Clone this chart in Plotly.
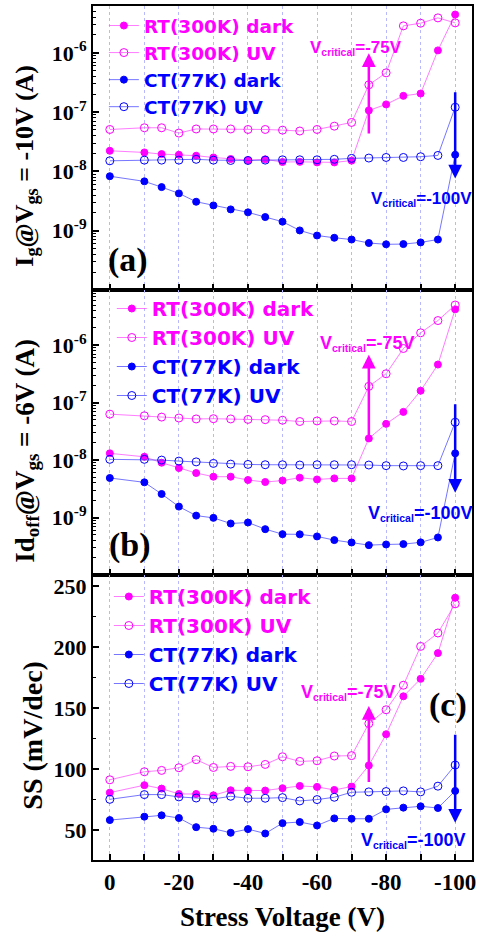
import math
import plotly.graph_objects as go
from plotly.subplots import make_subplots

# ---------------- data ----------------
stress_v = [0, -10, -15, -20, -25, -30, -35, -40, -45, -50, -55, -60, -65, -70, -75, -80, -85, -90, -95, -100]

ig_rt_dark = [2.23e-8, 2.09e-8, 1.96e-8, 1.91e-8, 1.84e-8, 1.72e-8, 1.62e-8, 1.55e-8, 1.6e-8, 1.44e-8,
              1.45e-8, 1.42e-8, 1.42e-8, 1.52e-8, 1.07e-7, 1.35e-7, 1.88e-7, 2.06e-7, 1.10e-6, 4.43e-6]
ig_rt_uv = [5.1e-8, 5.45e-8, 5.45e-8, 4.43e-8, 5.2e-8, 5.2e-8, 5.2e-8, 5.1e-8, 5.1e-8, 4.97e-8,
            4.8e-8, 5.1e-8, 5.8e-8, 6.7e-8, 2.89e-7, 4.6e-7, 2.85e-6, 3.16e-6, 3.89e-6, 3.2e-6]
ig_ct_dark = [8.3e-9, 6.8e-9, 5.44e-9, 4.26e-9, 3.08e-9, 2.67e-9, 2.29e-9, 2.04e-9, 1.7e-9, 1.42e-9,
              1.01e-9, 8.3e-10, 7.6e-10, 7.1e-10, 6.2e-10, 5.9e-10, 5.95e-10, 6.35e-10, 7.1e-10, 1.91e-8]
ig_ct_uv = [1.51e-8, 1.55e-8, 1.55e-8, 1.55e-8, 1.6e-8, 1.55e-8, 1.53e-8, 1.53e-8, 1.55e-8, 1.57e-8,
            1.57e-8, 1.57e-8, 1.6e-8, 1.66e-8, 1.68e-8, 1.72e-8, 1.72e-8, 1.77e-8, 1.86e-8, 1.21e-7]

id_rt_dark = [1.31e-8, 1.14e-8, 9.0e-9, 7.27e-9, 5.95e-9, 5.14e-9, 5.14e-9, 4.5e-9, 4.15e-9, 4.4e-9,
              4.94e-9, 4.6e-9, 4.8e-9, 4.8e-9, 2.38e-8, 4.27e-8, 6.9e-8, 1.61e-7, 4.6e-7, 4.2e-6]
id_rt_uv = [6.3e-8, 5.9e-8, 5.6e-8, 5.4e-8, 5.2e-8, 5.25e-8, 5.2e-8, 5.1e-8, 5.05e-8, 4.94e-8,
            4.69e-8, 4.8e-8, 4.8e-8, 4.69e-8, 1.92e-7, 3.18e-7, 8.75e-7, 1.64e-6, 2.68e-6, 5.0e-6]
id_ct_dark = [4.88e-9, 4.1e-9, 2.57e-9, 1.55e-9, 1.08e-9, 9.87e-10, 7.87e-10, 8.2e-10, 6.28e-10, 5.14e-10,
              5.1e-10, 4.69e-10, 4.05e-10, 3.68e-10, 3.31e-10, 3.4e-10, 3.45e-10, 3.7e-10, 4.5e-10, 1.31e-8]
id_ct_uv = [1.03e-8, 1.03e-8, 1.0e-8, 9.6e-9, 9.3e-9, 8.75e-9, 8.5e-9, 8.4e-9, 8.3e-9, 8.3e-9,
            8.2e-9, 8.3e-9, 8.3e-9, 8.3e-9, 8.2e-9, 8.0e-9, 7.9e-9, 8.0e-9, 8.0e-9, 4.56e-8]

ss_rt_dark = [81.0, 87.1, 84.3, 79.9, 79.9, 78.8, 82.9, 82.7, 82.7, 84.6,
              86.5, 85.7, 83.2, 86.0, 103.3, 128.8, 159.9, 174.2, 195.3, 240.7]
ss_rt_uv = [91.5, 98.1, 99.2, 101.4, 108.0, 101.6, 102.5, 102.2, 104.1, 110.4,
            106.6, 107.1, 111.0, 111.3, 137.6, 148.9, 169.0, 200.8, 211.8, 235.7]
ss_ct_dark = [58.5, 61.3, 62.4, 60.2, 52.7, 51.4, 48.1, 51.1, 47.5, 56.0,
              56.9, 54.1, 59.9, 59.6, 59.6, 67.3, 68.7, 69.8, 68.4, 82.4]
ss_ct_uv = [75.5, 79.4, 79.4, 77.5, 76.6, 75.8, 78.0, 76.4, 76.4, 76.9,
            74.2, 75.3, 77.2, 81.3, 81.6, 81.9, 82.4, 81.6, 86.3, 103.6]

series_names = ["RT(300K) dark", "RT(300K) UV", "CT(77K) dark", "CT(77K) UV"]
x_tickvals = [0, -10, -20, -30, -40, -50, -60, -70, -80, -90, -100]
x_ticktext = ["0", "", "-20", "", "-40", "", "-60", "", "-80", "", "-100"]
log_tickvals = [1e-9, 1e-8, 1e-7, 1e-6]
log_ticktext = ["10<sup>-9</sup>", "10<sup>-8</sup>", "10<sup>-7</sup>", "10<sup>-6</sup>"]
ss_tickvals = [50, 100, 150, 200, 250]

# ---------------- styling ----------------
W, H = 480, 936
ML, MR, MT, MB = 93, 4, 6, 76
PW, PH = W - ML - MR, H - MT - MB

MAG = "#ff00ff"
BLU = "#0000ff"
MAG_LINE = "rgba(255,80,255,0.75)"
BLU_LINE = "rgba(60,60,255,0.7)"
SERIF = "Times New Roman, Liberation Serif, serif"
SANS = "Arial, Liberation Sans, sans-serif"
LEGSANS = "DejaVu Sans, Arial, sans-serif"


def pxx(x):
    return (x - ML) / PW


def pxy(y):
    return (H - MB - y) / PH


fig = make_subplots(rows=3, cols=1, vertical_spacing=0)

panels = [
    (1, "legend", [ig_rt_dark, ig_rt_uv, ig_ct_dark, ig_ct_uv]),
    (2, "legend2", [id_rt_dark, id_rt_uv, id_ct_dark, id_ct_uv]),
    (3, "legend3", [ss_rt_dark, ss_rt_uv, ss_ct_dark, ss_ct_uv]),
]
styles = [
    (MAG, MAG_LINE, True),
    (MAG, MAG_LINE, False),
    (BLU, BLU_LINE, True),
    (BLU, BLU_LINE, False),
]

for row, leg, ys in panels:
    for name, yv, (mc, lc, filled) in zip(series_names, ys, styles):
        fig.add_trace(go.Scatter(
            x=stress_v, y=yv, mode="lines+markers",
            name=f"<span style='color:{mc}'>{name}</span>",
            legend=leg,
            line=dict(color=lc, width=1),
            marker=dict(
                symbol="circle" if filled else "circle-open",
                size=7 if filled else 8,
                color=mc,
                line=dict(color=mc, width=1),
            ),
        ), row=row, col=1)

# domains
dom = [
    [pxy(290), 1.0],
    [pxy(575), pxy(290)],
    [0.0, pxy(575)],
]

axis_common = dict(showline=True, linewidth=2, linecolor="black", mirror=True,
                   ticks="inside", tickwidth=1.5, ticklen=6, tickcolor="black",
                   zeroline=False)

for i in range(3):
    xa = "xaxis" if i == 0 else f"xaxis{i+1}"
    ya = "yaxis" if i == 0 else f"yaxis{i+1}"
    fig.layout[xa].update(
        domain=[0, 1], range=[4.87, -104.87], tickmode="array",
        tickvals=x_tickvals, ticktext=x_ticktext,
        showticklabels=(i == 2),
        showgrid=True, gridcolor="#b8b8ff", griddash="dot", gridwidth=1,
        tickfont=dict(family=SERIF, size=23, color="black", weight="bold"),
        **axis_common)
    fig.layout[ya].update(domain=dom[i], showgrid=False,
                          tickfont=dict(family=SERIF, size=22, color="black", weight="bold"),
                          **axis_common)

def minor_log(lo, hi):
    vals = []
    for k in range(lo, hi + 1):
        for m in range(2, 10):
            vals.append(m * 10.0 ** k)
    return vals

fig.layout.yaxis.update(type="log", range=[-10.0, -5.21], tickmode="array",
                        tickvals=log_tickvals, ticktext=log_ticktext,
                        minor=dict(tickmode="array", tickvals=minor_log(-10, -6),
                                   ticks="inside", ticklen=3, tickwidth=1, tickcolor="black"))
fig.layout.yaxis2.update(type="log", range=[-10.0, -5.04], tickmode="array",
                         tickvals=log_tickvals, ticktext=log_ticktext,
                         minor=dict(tickmode="array", tickvals=minor_log(-10, -6),
                                    ticks="inside", ticklen=3, tickwidth=1, tickcolor="black"))
fig.layout.yaxis3.update(range=[25.8, 259.3], tickmode="array", tickvals=ss_tickvals,
                         minor=dict(dtick=25, ticks="inside", ticklen=3, tickwidth=1, tickcolor="black"))

# legends
leg_common = dict(bgcolor="rgba(0,0,0,0)", borderwidth=0, xanchor="left", yanchor="top",
                  tracegroupgap=0, itemwidth=30)
fig.update_layout(
    legend=dict(x=pxx(104), y=pxy(7), font=dict(family=LEGSANS, size=18.5, weight="bold"), **leg_common),
    legend2=dict(x=pxx(112), y=pxy(289), font=dict(family=LEGSANS, size=20, weight="bold"), **leg_common),
    legend3=dict(x=pxx(109), y=pxy(577), font=dict(family=LEGSANS, size=20, weight="bold"), **leg_common),
)

# white masks behind traces that hide the grid under each legend
shapes = []
for (x0, y0, x1, y1) in [(94, 7, 300, 117), (94, 292, 330, 412), (94, 577, 330, 698)]:
    shapes.append(dict(type="rect", xref="paper", yref="paper",
                       x0=pxx(x0), x1=pxx(x1), y0=pxy(y1), y1=pxy(y0),
                       fillcolor="white", line=dict(width=0), layer="between"))

ann = []

# arrows (data coordinates)
def arrow(xref, yref, x, y_tip, y_tail, color, log=False):
    yt = math.log10(y_tip) if log else y_tip
    ya = math.log10(y_tail) if log else y_tail
    return dict(x=x, y=yt, ax=x, ay=ya, xref=xref, yref=yref, axref=xref, ayref=yref,
                showarrow=True, text="", arrowhead=2, arrowsize=1.1, arrowwidth=2.5,
                arrowcolor=color)

ann.append(arrow("x", "y", -75, 9.8e-7, 4.1e-8, MAG, log=True))
ann.append(arrow("x", "y", -100, 7.6e-9, 2.3e-7, BLU, log=True))
ann.append(arrow("x2", "y2", -75, 6.8e-7, 2.38e-8, MAG, log=True))
ann.append(arrow("x2", "y2", -100, 2.7e-9, 9.9e-8, BLU, log=True))
ann.append(arrow("x3", "y3", -75, 152, 88.5, MAG))
ann.append(arrow("x3", "y3", -100, 56.3, 129.7, BLU))

# V critical labels (anchored at their right edge); base font sets the subscript size,
# the main characters are enlarged with spans
def vlabel(txt, xr, yc, color, size):
    big = f"font-size:{size}px"
    return dict(text=f"<span style='{big}'>V</span><sub>critical</sub><span style='{big}'>={txt}</span>",
                x=pxx(xr), y=pxy(yc), xref="paper", yref="paper",
                xanchor="right", yanchor="middle", showarrow=False,
                font=dict(family=SANS, size=15, color=color, weight="bold"))

ann.append(vlabel("-75V", 407, 48, MAG, 17))
ann.append(vlabel("-100V", 478, 199, BLU, 17))
ann.append(vlabel("-75V", 419, 343, MAG, 18))
ann.append(vlabel("-100V", 478, 513, BLU, 18))
ann.append(vlabel("-75V", 400, 692, MAG, 18))
ann.append(vlabel("-100V", 471, 840, BLU, 18))

# panel labels
for lab, xc, yc in [("(a)", 128, 260), ("(b)", 130, 545), ("(c)", 452, 705)]:
    ann.append(dict(text=lab, x=pxx(xc), y=pxy(yc), xref="paper", yref="paper",
                    xanchor="center", yanchor="middle", showarrow=False,
                    font=dict(family=SERIF, size=34, color="black", weight="bold")))

# axis titles
for txt, xc, yc, sz in [
    ("I<sub>g</sub>@V<sub>gs</sub> = -10V (A)", 25, 166, 26),
    ("Id<sub>off</sub>@V<sub>gs</sub> = -6V (A)", 26, 451, 27),
    ("SS (mV/dec)", 31, 735, 28),
]:
    ann.append(dict(text=txt, x=pxx(xc), y=pxy(yc), xref="paper", yref="paper",
                    xanchor="center", yanchor="middle", textangle=-90, showarrow=False,
                    font=dict(family=SERIF, size=sz, color="black", weight="bold")))

ann.append(dict(text="Stress Voltage (V)", x=pxx(285), y=pxy(917), xref="paper", yref="paper",
                xanchor="center", yanchor="middle", showarrow=False,
                font=dict(family=SERIF, size=27, color="black", weight="bold")))

fig.update_layout(
    annotations=ann,
    shapes=shapes,
    width=W, height=H,
    margin=dict(l=ML, r=MR, t=MT, b=MB),
    plot_bgcolor="white", paper_bgcolor="white",
    showlegend=True,
)

fig.write_html("out.html")
